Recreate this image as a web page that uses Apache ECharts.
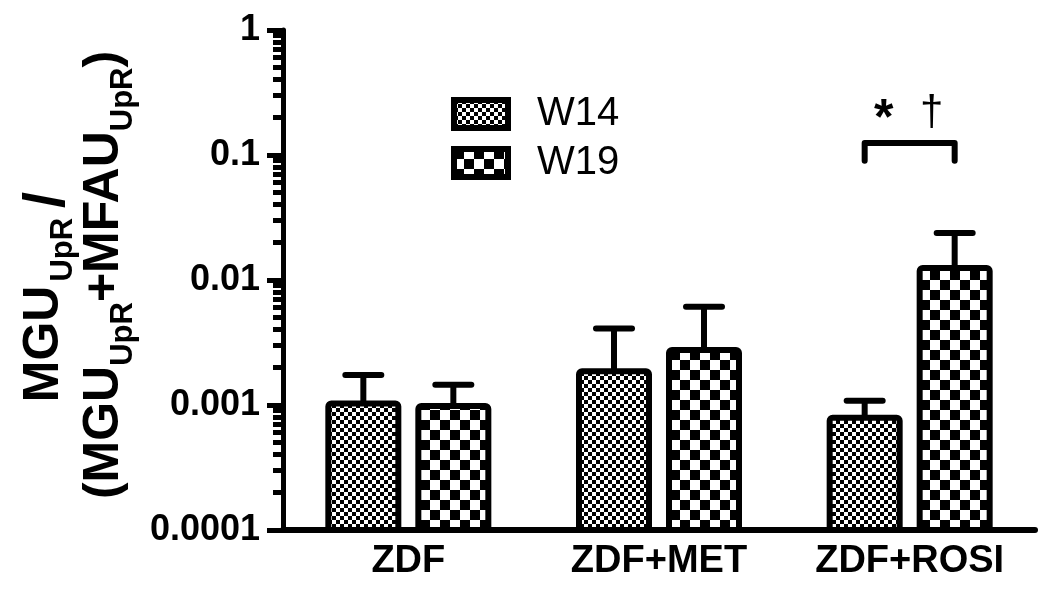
<!DOCTYPE html>
<html>
<head>
<meta charset="utf-8">
<script src="https://cdn.jsdelivr.net/npm/echarts@6/dist/echarts.min.js"></script>
<style>
html, body { margin: 0; background: #fff; }
#main { width: 1050px; height: 602px; }
</style>
</head>
<body>
<div id="main"></div>
<script>
// data (log scale)
var groups = ['ZDF', 'ZDF+MET', 'ZDF+ROSI'];
var w14Mean = [0.00103, 0.00186, 0.00079];
var w14Upper = [0.00174, 0.0041, 0.00108];
var w19Mean = [0.00098, 0.00275, 0.0125];
var w19Upper = [0.00145, 0.0061, 0.0238];
var yMajorTicks = [0.0001, 0.001, 0.01, 0.1, 1];
var bracketY = [0.125, 0.09]; // bar of the significance bracket, its legs
var bracketMarks = ['*', '\u2020'];

var FONT = '"Liberation Sans", Arial, sans-serif';
var Y_MIN = 0.0001, Y_MAX = 1;
var BAR_W = 70, BAR_GAP = 20;
var SHIFT = BAR_W / 2 + BAR_GAP / 2;

// minor ticks 2..9 inside every decade
var yMinorTicks = [];
for (var d = 0; d < yMajorTicks.length - 1; d++) {
  for (var k = 2; k <= 9; k++) {
    yMinorTicks.push(Number((yMajorTicks[d] * k).toPrecision(2)));
  }
}

function checker(s) {
  var c = document.createElement('canvas');
  c.width = c.height = s * 2;
  var g = c.getContext('2d');
  g.fillStyle = '#fff';
  g.fillRect(0, 0, s * 2, s * 2);
  g.fillStyle = '#000';
  g.fillRect(0, 0, s, s);
  g.fillRect(s, s, s, s);
  return c;
}

var pat14 = { image: checker(4), repeat: 'repeat' };
var pat19 = { image: checker(10), repeat: 'repeat' };

// bars on a log axis: drawn up from the axis minimum
function barSeries(name, means, pattern, shift) {
  return {
    type: 'custom',
    name: name,
    z: 2,
    itemStyle: { color: pattern, borderColor: '#000', borderWidth: 6 },
    data: groups.map(function (g, i) { return [i, means[i]]; }),
    encode: { x: 0, y: 1 },
    renderItem: function (params, api) {
      var base = api.coord([api.value(0), Y_MIN]);
      var top = api.coord([api.value(0), api.value(1)]);
      return {
        type: 'rect',
        shape: { x: base[0] + shift - BAR_W / 2, y: top[1], width: BAR_W, height: base[1] - top[1], r: 3 },
        style: { fill: pattern, stroke: '#000', lineWidth: 6 }
      };
    }
  };
}

function errSeries(name, means, uppers, shift) {
  return {
    type: 'custom',
    name: name,
    z: 3,
    data: groups.map(function (g, i) { return [i, means[i], uppers[i]]; }),
    encode: { x: 0, y: [1, 2] },
    renderItem: function (params, api) {
      var base = api.coord([api.value(0), api.value(1)]);
      var top = api.coord([api.value(0), api.value(2)]);
      var cx = base[0] + shift;
      return {
        type: 'group',
        children: [
          { type: 'line', shape: { x1: cx, y1: base[1], x2: cx, y2: top[1] },
            style: { stroke: '#000', lineWidth: 6 } },
          { type: 'line', shape: { x1: cx - 18, y1: top[1], x2: cx + 18, y2: top[1] },
            style: { stroke: '#000', lineWidth: 6, lineCap: 'round' } }
        ]
      };
    }
  };
}

var chart = echarts.init(document.getElementById('main'));

chart.setOption({
  animation: false,
  backgroundColor: '#fff',
  grid: { left: 283, top: 30, width: 752, height: 500, containLabel: false },
  legend: {
    data: ['W14', 'W19'],
    orient: 'vertical',
    left: 451,
    top: 94,
    padding: 0,
    itemWidth: 54,
    itemHeight: 28,
    itemGap: 9,
    icon: 'rect',
    itemStyle: { borderWidth: 6, borderColor: '#000' },
    textStyle: { fontFamily: FONT, fontSize: 40, color: '#000', padding: [0, 0, 0, 24] }
  },
  xAxis: {
    type: 'category',
    data: groups,
    axisLine: { lineStyle: { color: '#000', width: 6 } },
    axisTick: { alignWithLabel: true, length: 10, lineStyle: { color: '#000', width: 4 } },
    axisLabel: { color: '#000', fontFamily: FONT, fontWeight: 'bold', fontSize: 38, margin: 13 }
  },
  yAxis: [{
    type: 'log',
    logBase: 10,
    min: Y_MIN,
    max: Y_MAX,
    position: 'left',
    splitLine: { show: false },
    axisLine: { show: true, lineStyle: { color: '#000', width: 5 } },
    axisTick: { show: true, length: 16, customValues: yMajorTicks, lineStyle: { color: '#000', width: 5 } },
    axisLabel: {
      customValues: yMajorTicks,
      color: '#000', fontFamily: FONT, fontWeight: 'bold', fontSize: 36, margin: 23,
      formatter: function (v) { return String(Number(v.toPrecision(1))); }
    },
    name: '{b|MGU}{s1|UpR}{sl|/}\n{b|(MGU}{s|UpR}{b|+MFAU}{s|UpR}{b|)}',
    nameLocation: 'middle',
    nameRotate: 90,
    nameGap: 139,
    nameTextStyle: {
      color: '#000',
      padding: [0, 0, 0, 10],
      rich: {
        b: { fontFamily: FONT, fontWeight: 'bold', fontSize: 50, lineHeight: 60, verticalAlign: 'top', color: '#000' },
        s: { fontFamily: FONT, fontWeight: 'bold', fontSize: 31, lineHeight: 60, verticalAlign: 'bottom', color: '#000' },
        s1: { fontFamily: FONT, fontWeight: 'bold', fontSize: 31, lineHeight: 60, verticalAlign: 'bottom', color: '#000', padding: [0, 2, 0, 4] },
        sl: { fontFamily: FONT, fontWeight: 'bold', fontSize: 58, lineHeight: 60, verticalAlign: 'top', color: '#000', padding: [0, 44, 0, 8] }
      }
    }
  }, {
    type: 'log',
    logBase: 10,
    min: Y_MIN,
    max: Y_MAX,
    position: 'left',
    offset: 0,
    splitLine: { show: false },
    axisLine: { show: false },
    axisLabel: { show: false },
    axisTick: { show: true, length: 10, customValues: yMinorTicks, lineStyle: { color: '#000', width: 5 } }
  }],
  series: [
    barSeries('W14', w14Mean, pat14, -SHIFT),
    barSeries('W19', w19Mean, pat19, SHIFT),
    errSeries('errW14', w14Mean, w14Upper, -SHIFT),
    errSeries('errW19', w19Mean, w19Upper, SHIFT),
    {
      type: 'custom',
      name: 'bracket',
      z: 4,
      data: [[2, bracketY[0], bracketY[1]]],
      encode: { x: 0, y: [1, 2] },
      renderItem: function (params, api) {
        var bar = api.coord([api.value(0), api.value(1)]);
        var leg = api.coord([api.value(0), api.value(2)]);
        var l = bar[0] - SHIFT, r = bar[0] + SHIFT;
        return {
          type: 'group',
          children: [
            { type: 'polyline', shape: { points: [[l, leg[1]], [l, bar[1]], [r, bar[1]], [r, leg[1]]] },
              style: { stroke: '#000', lineWidth: 6, lineCap: 'round', lineJoin: 'round', fill: null } },
            { type: 'text', x: bar[0] - 26, y: bar[1] + 2,
              style: { text: bracketMarks[0], fontFamily: FONT, fontWeight: 'bold', fontSize: 50, fill: '#000', align: 'center', verticalAlign: 'bottom' } },
            { type: 'text', x: bar[0] + 22, y: bar[1] - 8,
              style: { text: bracketMarks[1], fontFamily: FONT, fontSize: 42, fill: '#000', align: 'center', verticalAlign: 'bottom' } }
          ]
        };
      }
    }
  ]
});
</script>
</body>
</html>
